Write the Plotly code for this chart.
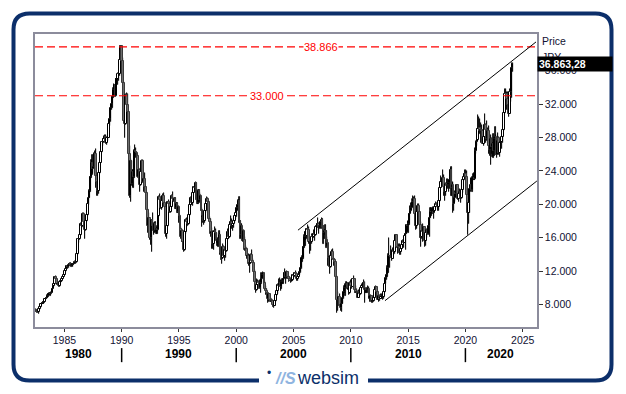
import plotly.graph_objects as go
import pandas as pd

# Monthly Nikkei 225 (Jul 1982 - Feb 2024)
close = [
    7250, 7150, 7050, 7400, 7650, 8016,
    8100, 8130, 8350, 8600, 8650, 8800, 9000, 9200, 9300, 9200, 9400, 9893,
    10200, 10400, 11300, 11000, 10400, 10500, 10200, 10700, 10800, 11100, 11300, 11542,
    11990, 12300, 12580, 12430, 12700, 12880, 12630, 12700, 12700, 12800, 12950, 13113,
    13030, 14000, 15860, 15830, 16300, 17650, 17370, 18820, 17850, 16910, 18000, 18701,
    20000, 20780, 21570, 23270, 24900, 24180, 24490, 26030, 26010, 23330, 22690, 21564,
    23720, 25000, 26260, 27430, 27420, 27770, 28060, 27370, 27920, 27970, 29580, 30159,
    31580, 31990, 32840, 33710, 34270, 33000, 34950, 35000, 35640, 35550, 37270, 38916,
    37190, 34590, 29980, 29590, 33130, 31940, 31040, 25980, 20980, 25190, 22450, 23849,
    23290, 26410, 26290, 26110, 25790, 23290, 24120, 22340, 23920, 25220, 22690, 22984,
    22020, 21340, 19350, 17390, 18350, 15950, 15910, 18060, 17400, 16770, 17680, 16925,
    17020, 16950, 18590, 20920, 20550, 19590, 20380, 21030, 20110, 19700, 16410, 17417,
    20230, 19990, 19110, 19730, 20970, 20640, 20450, 20630, 19560, 19990, 19080, 19723,
    18650, 17050, 16140, 16810, 15440, 14520, 16680, 18120, 17910, 17650, 18740, 19868,
    20810, 20130, 21410, 22040, 21950, 22530, 20690, 20170, 21560, 20470, 21020, 19361,
    18330, 18560, 18000, 19150, 20070, 20600, 20330, 18230, 17890, 16460, 16630, 15259,
    16630, 16830, 16530, 15640, 15670, 15830, 16380, 14110, 13410, 13560, 14880, 13842,
    14500, 14370, 15840, 16700, 16110, 17530, 17860, 17440, 17610, 17940, 18560, 18934,
    19540, 19960, 20340, 17970, 16330, 17410, 15730, 16860, 15750, 14540, 14650, 13786,
    13840, 12880, 13000, 13930, 13260, 12970, 11860, 10710, 9770, 10370, 10700, 10543,
    9990, 10590, 11020, 11490, 11760, 10620, 9880, 9620, 9380, 8640, 9220, 8579,
    8340, 8360, 7970, 7830, 8420, 9080, 9560, 10340, 10220, 10560, 10100, 10677,
    10780, 11040, 11720, 11760, 11240, 11860, 11330, 11080, 10820, 10770, 10900, 11489,
    11390, 11740, 11670, 11010, 11280, 11580, 11900, 12410, 13570, 13610, 14870, 16111,
    16650, 16210, 17060, 16910, 15470, 15510, 15460, 16140, 16130, 16400, 16270, 17226,
    17380, 17600, 17290, 17400, 17880, 18140, 17250, 16570, 16790, 16740, 15680, 15308,
    13590, 13600, 12530, 13850, 14340, 13480, 13380, 13070, 11260, 8580, 8510, 8860,
    7990, 7570, 8110, 8830, 9520, 9960, 10360, 10490, 10130, 10030, 9350, 10546,
    10200, 10130, 11090, 11060, 9770, 9380, 9540, 8820, 9370, 9200, 9940, 10229,
    10240, 10620, 9760, 9850, 9690, 9820, 9830, 8960, 8700, 8990, 8430, 8455,
    8800, 9720, 10080, 9520, 8540, 9010, 8700, 8840, 8870, 8930, 9450, 10395,
    11140, 11560, 12400, 13860, 13770, 13680, 13670, 13390, 14460, 14330, 15660, 16291,
    14910, 14840, 14830, 14300, 14630, 15160, 15620, 15420, 16170, 16410, 17460, 17451,
    17670, 18800, 19210, 19520, 20560, 20240, 20590, 18890, 17390, 19080, 19750, 19034,
    17520, 16030, 16760, 16670, 17230, 15580, 16570, 16890, 16450, 17430, 18310, 19114,
    19040, 19120, 18910, 19200, 19650, 20030, 19930, 19650, 20360, 22010, 22720, 22765,
    23100, 22070, 21450, 22470, 22200, 22300, 22550, 22870, 24120, 21920, 22350, 20015,
    20770, 21390, 21210, 22260, 20600, 21280, 21520, 20700, 21760, 22930, 23290, 23657,
    23210, 21140, 18920, 20190, 21880, 22290, 21710, 23140, 23190, 22980, 26430, 27444,
    27660, 28970, 29180, 28810, 28860, 28790, 27280, 28090, 29450, 28890, 27820, 28792,
    27000, 26530, 27820, 26850, 27280, 26390, 27800, 28090, 25940, 27590, 27970, 26095,
    27330, 27450, 28040, 28860, 30890, 33190, 33170, 32620, 31860, 30860, 33490, 33464,
    36287, 36863.28,
]
high = [
    7400, 7300, 7200, 7450, 7750, 8050,
    8200, 8250, 8400, 8650, 8750, 8900, 9100, 9250, 9400, 9400, 9450, 9900,
    10300, 10500, 11300, 11400, 11100, 10700, 10600, 10750, 10900, 11150, 11400, 11600,
    12050, 12350, 12600, 12650, 12750, 12900, 12950, 12800, 12800, 12900, 13000, 13150,
    13200, 14050, 15900, 16000, 16500, 17700, 17850, 18900, 18900, 17900, 18100, 18800,
    20100, 20900, 21700, 23300, 25250, 25900, 24800, 26100, 26400, 26650, 23700, 22900,
    23800, 25100, 26300, 27500, 27800, 28200, 28300, 28300, 28000, 28200, 29650, 30200,
    31600, 32500, 32900, 33900, 34400, 34300, 35000, 35300, 35700, 35800, 37300, 38957,
    38950, 37500, 34600, 30600, 33200, 33300, 33200, 31100, 27000, 25400, 25200, 24100,
    24100, 26500, 27146, 26700, 26300, 25900, 24300, 24200, 24000, 25300, 25300, 23000,
    23800, 22100, 21500, 19400, 18900, 18400, 16200, 18100, 18900, 17600, 17800, 17900,
    17200, 17400, 18700, 21000, 21200, 20600, 20500, 21200, 21300, 20300, 19800, 17600,
    20300, 20500, 20100, 20000, 21100, 21500, 20700, 20800, 20700, 20100, 20100, 19800,
    19800, 18700, 17300, 17000, 16900, 15600, 16800, 18200, 18400, 18200, 18800, 19900,
    20900, 21000, 21500, 22100, 22400, 22666, 22600, 21200, 21700, 21700, 21300, 21100,
    19500, 18900, 18800, 19300, 20300, 20900, 20700, 20400, 18500, 18200, 17200, 16800,
    16700, 17300, 17100, 16600, 15900, 16000, 16800, 16400, 14400, 14100, 15200, 15000,
    14600, 14700, 16000, 17000, 16900, 17700, 18600, 18200, 17900, 18000, 18700, 19000,
    19600, 20000, 20500, 20833, 18000, 17600, 17500, 16900, 16900, 16100, 15000, 14800,
    14100, 14000, 13300, 14100, 14500, 13500, 13000, 12100, 10900, 11000, 10900, 10800,
    10900, 10700, 11800, 11600, 11900, 11800, 10800, 10200, 9800, 9400, 9300, 9250,
    8800, 8700, 8500, 8100, 8500, 9200, 10000, 10400, 11000, 11200, 10900, 10800,
    11000, 11100, 11800, 12200, 11800, 12000, 11900, 11400, 11300, 11200, 11200, 11500,
    11550, 11800, 11950, 11700, 11350, 11650, 11950, 12500, 13600, 13800, 14900, 16300,
    16700, 16700, 17100, 17560, 17300, 15700, 15600, 16400, 16500, 16900, 16500, 17300,
    17600, 18300, 17700, 17800, 17900, 18300, 18262, 17400, 16900, 17500, 16800, 16100,
    15200, 14100, 13700, 13900, 14500, 14600, 13600, 13500, 13100, 11400, 9500, 8900,
    9300, 8100, 8600, 9000, 9600, 10170, 10400, 10700, 10600, 10400, 10100, 10640,
    10980, 10400, 11100, 11400, 11000, 10250, 9800, 9600, 9700, 9600, 10100, 10400,
    10600, 10900, 10700, 9900, 10000, 9900, 10200, 10050, 9100, 9150, 9000, 8700,
    8900, 9800, 10250, 10100, 9600, 9100, 9150, 9200, 9300, 9000, 9500, 10450,
    11200, 11600, 12650, 14000, 15942, 13800, 14950, 14500, 14800, 14800, 15700, 16320,
    16200, 15000, 15300, 15200, 14700, 15400, 15700, 15600, 16400, 16500, 17500, 18030,
    17900, 18800, 19800, 20100, 20600, 20950, 20850, 20950, 18900, 19150, 20000, 20000,
    18950, 17900, 17300, 17600, 17300, 17000, 16900, 17000, 17100, 17500, 18400, 19600,
    19600, 19450, 19700, 19300, 19900, 20300, 20200, 20100, 20500, 22100, 23400, 23000,
    24130, 23500, 22500, 22500, 23050, 23000, 22950, 23000, 24300, 24450, 22600, 22700,
    20900, 21560, 21860, 22300, 22300, 21300, 21800, 21600, 22100, 23000, 23600, 24100,
    24100, 24000, 21400, 20400, 22000, 23180, 23000, 23300, 23600, 23700, 26800, 27600,
    28980, 30714, 30500, 30200, 29700, 29500, 28900, 28200, 30795, 29600, 29960, 29100,
    29400, 27800, 28300, 27900, 27400, 28400, 28000, 29220, 28300, 27600, 28500, 28100,
    27500, 27700, 28600, 28900, 31350, 33770, 33800, 33500, 33400, 32500, 33800, 33850,
    36985, 36900,
]
low = [
    7150, 7000, 6950, 6850, 7350, 7600,
    7950, 8000, 8050, 8300, 8500, 8600, 8750, 8950, 9100, 9050, 9100, 9350,
    9800, 10100, 10350, 10900, 10300, 10300, 10050, 10100, 10600, 10700, 11000, 11250,
    11500, 11900, 12250, 12300, 12400, 12650, 12550, 12500, 12550, 12450, 12700, 12900,
    12850, 12950, 13950, 15400, 15700, 16250, 17200, 17300, 17700, 15800, 16800, 17900,
    18600, 19900, 20700, 21500, 23200, 23800, 23500, 24400, 25300, 21900, 21000, 21040,
    21200, 23600, 24900, 26200, 27000, 27300, 27600, 27200, 27100, 27600, 27900, 29400,
    29900, 31300, 31500, 32700, 33600, 32800, 32800, 34500, 34300, 34800, 35400, 37200,
    36800, 33300, 29800, 28000, 29500, 31500, 30700, 25100, 20800, 20221, 22200, 22100,
    22000, 23200, 25800, 25600, 25400, 23100, 22800, 21500, 22200, 23800, 22600, 21500,
    21700, 20600, 19200, 16600, 17000, 15700, 15100, 14309, 17200, 16300, 16600, 16700,
    16500, 16400, 16800, 18500, 20300, 19400, 19300, 20300, 19800, 19500, 16100, 15900,
    17300, 19000, 19000, 19000, 19700, 20500, 20300, 20300, 19400, 19400, 18900, 18900,
    17700, 16800, 15800, 15500, 15300, 14300, 14400, 16500, 17300, 17400, 17500, 18600,
    19700, 19900, 19800, 21300, 21500, 21600, 20500, 20000, 20000, 20400, 20100, 19200,
    17300, 17800, 17500, 17700, 19000, 19900, 19800, 18100, 17100, 16100, 14700, 14700,
    14500, 16100, 16000, 15400, 15000, 14900, 15800, 13900, 13300, 12880, 13500, 13700,
    13200, 13600, 14300, 15700, 15900, 16000, 17400, 17100, 16800, 17200, 17800, 18200,
    18500, 19200, 19300, 17700, 15900, 16000, 15600, 15500, 15600, 14400, 14200, 13400,
    13000, 12600, 11800, 12900, 13100, 12700, 11600, 10600, 9400, 9600, 10100, 9900,
    9900, 9400, 10500, 10900, 11300, 10400, 9800, 9100, 9000, 8200, 8300, 8500,
    8300, 8200, 7700, 7607, 7800, 8300, 9000, 9300, 10100, 10200, 9600, 9900,
    10500, 10400, 10900, 11700, 10500, 11100, 11000, 10700, 10800, 10600, 10700, 10800,
    11200, 11350, 11550, 10770, 10830, 11180, 11500, 11800, 12300, 13100, 13500, 14800,
    15000, 15700, 15900, 16800, 15300, 14050, 14400, 15300, 15600, 16000, 15600, 16200,
    16800, 17200, 16500, 17000, 17100, 17800, 17100, 15200, 15800, 16300, 14800, 15000,
    12600, 12900, 11700, 12400, 13600, 13400, 12600, 12600, 11100, 6990, 7160, 7800,
    7800, 7200, 7054, 8000, 8600, 9400, 9050, 10200, 9900, 9700, 9080, 9300,
    10200, 9870, 10100, 10900, 9430, 9350, 9100, 8800, 8800, 9000, 9100, 9900,
    10100, 10200, 8227, 9400, 9400, 9350, 9800, 8600, 8350, 8350, 8130, 8200,
    8350, 8800, 9700, 9400, 8500, 8240, 8400, 8600, 8700, 8500, 8620, 9400,
    10400, 10900, 11300, 11800, 13500, 12400, 13600, 13200, 13400, 13900, 14000, 15200,
    14800, 13995, 14200, 13900, 13960, 14600, 15000, 14750, 15400, 14530, 16400, 16670,
    16600, 17500, 18800, 19000, 19300, 20000, 19100, 17700, 16900, 17100, 19000, 18500,
    16000, 14860, 15800, 15500, 16100, 14860, 15000, 16000, 16300, 16300, 16100, 18300,
    18650, 18800, 18900, 18200, 19200, 19600, 19800, 19200, 19200, 20300, 21900, 22100,
    22800, 20950, 20350, 21000, 21950, 21850, 21500, 21850, 22300, 20970, 21000, 18950,
    19240, 20300, 20900, 21000, 20550, 20300, 21100, 20100, 20600, 21300, 22800, 23100,
    22900, 20900, 16358, 17600, 19000, 21500, 21700, 21500, 22900, 22900, 22900, 26000,
    27000, 27600, 28300, 28400, 27400, 27800, 27200, 26950, 28000, 27300, 27600, 27600,
    26000, 25800, 24700, 26000, 25700, 25500, 25800, 27500, 25900, 25600, 27400, 25900,
    25700, 27000, 26600, 27400, 28800, 30800, 31800, 31300, 31600, 30500, 31200, 32200,
    32700, 35800,
]
open_ = [7300] + close[:-1]

xtick_years = [1985, 1990, 1995, 2000, 2005, 2010, 2015, 2020, 2025]
decade_labels = ["1980", "1990", "2000", "2010", "2020"]
decade_centers = ["1986-03-20", "1995-01-01", "2005-01-01", "2015-01-01", "2023-02-01"]
separators = ["1990-01-01", "2000-01-01", "2010-01-01", "2020-01-01"]
ytick_vals = [8000, 12000, 16000, 20000, 24000, 28000, 32000, 36000]
ytick_text = ["8.000", "12.000", "16.000", "20.000", "24.000", "28.000", "32.000", "36.000"]
ath_level = 38866
level_33 = 33000
last_price = 36863.28
channel_upper = (["2005-05-22", "2026-03-01"], [16900, 39450])
channel_lower = (["2012-12-24", "2026-03-28"], [8450, 22790])

assert len(close) == len(high) == len(low)
dates = pd.date_range("1982-07-01", periods=len(close), freq="MS") + pd.Timedelta(days=14)

FONT = "Liberation Sans, Arial, sans-serif"
NAVY = "#0c2f6a"
MONTH_MS = 30.44 * 86400000

up = [c >= o for o, c in zip(open_, close)]
body_base = [min(o, c) for o, c in zip(open_, close)]
body_h = [max(abs(c - o), 40) for o, c in zip(open_, close)]
body_fill = ["white" if u else "#6e6e6e" for u in up]
body_line = ["black" if u else "#3a3a3a" for u in up]
wick_h = [h - l for h, l in zip(high, low)]

fig = go.Figure()
# wicks (thin bars, drawn first so bodies sit on top)
fig.add_trace(go.Bar(x=dates, y=wick_h, base=low, width=0.15 * MONTH_MS,
                     marker=dict(color="black", line=dict(color="black", width=0.8)),
                     hoverinfo="skip", showlegend=False))
# bodies
fig.add_trace(go.Bar(x=dates, y=body_h, base=body_base, width=1.7 * MONTH_MS,
                     marker=dict(color=body_fill, line=dict(color=body_line, width=1)),
                     hoverinfo="skip", showlegend=False))

shapes = []
for lvl in (ath_level, level_33):
    shapes.append(dict(type="line", xref="paper", x0=0, x1=1, yref="y", y0=lvl, y1=lvl,
                       line=dict(color="#ff0000", width=1.2, dash="8px,4px")))
for (xs, ys) in (channel_upper, channel_lower):
    shapes.append(dict(type="line", xref="x", yref="y", x0=xs[0], x1=xs[1], y0=ys[0], y1=ys[1],
                       line=dict(color="black", width=1)))
for s in separators:
    shapes.append(dict(type="line", xref="x", yref="paper", x0=s, x1=s, y0=-0.072, y1=-0.12,
                       line=dict(color="black", width=1.5)))

# screen layout (page body has an 8px margin): plot area x 35..537, y 34..327 px on screen
def px(x):
    return (x - 35) / 502.0
def py(y):
    return (327 - y) / 293.0
L, R, T, B, r = 13.5, 611.5, 13.5, 380.5, 16
gapL, gapR = 259, 368
pts = (f"M {px(gapR)},{py(B)} L {px(R - r)},{py(B)} Q {px(R)},{py(B)} {px(R)},{py(B - r)} "
       f"L {px(R)},{py(T + r)} Q {px(R)},{py(T)} {px(R - r)},{py(T)} "
       f"L {px(L + r)},{py(T)} Q {px(L)},{py(T)} {px(L)},{py(T + r)} "
       f"L {px(L)},{py(B - r)} Q {px(L)},{py(B)} {px(L + r)},{py(B)} L {px(gapL)},{py(B)}")
shapes.append(dict(type="path", xref="paper", yref="paper", path=pts,
                   line=dict(color=NAVY, width=4)))

def ann(text, x, y, color, size, xref="paper", yref="paper", xanchor="center", **kw):
    return dict(text=text, xref=xref, x=x, yref=yref, y=y, showarrow=False,
                xanchor=xanchor, yanchor="middle",
                font=dict(color=color, size=size, family=FONT), **kw)

annotations = [
    ann("38.866", px(321), ath_level, "#ff0000", 11, yref="y", bgcolor="white", borderpad=0),
    ann("33.000", px(267), level_33, "#ff0000", 11, yref="y", bgcolor="white", borderpad=0),
    ann("Price", px(540), py(41), "#111133", 10.5, xanchor="left"),
    ann("JPY", px(540), py(57), "#111133", 10.5, xanchor="left"),
    ann("<b>36.863,28</b>", 1.0, last_price, "white", 10.5, yref="y", xanchor="left",
        bgcolor="black", borderpad=1, width=72, align="left"),
]
for lab, c in zip(decade_labels, decade_centers):
    annotations.append(ann(f"<b>{lab}</b>", c, py(354), "black", 12, xref="x"))
annotations.append(ann("•", px(269), py(373), NAVY, 12))
annotations.append(ann("<i><b>//S</b></i>", px(285), py(378), "#8fb4e0", 16))
annotations.append(ann("websim", px(328), py(378), NAVY, 18))

fig.update_layout(
    width=610, height=378,
    margin=dict(l=27, r=81, t=26, b=59),
    paper_bgcolor="white", plot_bgcolor="white",
    shapes=shapes, annotations=annotations,
    bargap=0, barmode="overlay",
    xaxis=dict(type="date", range=["1982-06-10", "2026-04-01"],
               tickvals=[f"{y}-01-01" for y in xtick_years], ticktext=[str(y) for y in xtick_years],
               ticks="outside", ticklen=3, tickcolor="#333", showgrid=False,
               showline=True, linecolor="#8c8c9c", linewidth=1.5, mirror=True,
               tickfont=dict(size=10.5, family=FONT, color="#111133")),
    yaxis=dict(side="right", range=[5300, 40400], tickvals=ytick_vals, ticktext=ytick_text,
               ticks="outside", ticklen=4, tickcolor="#333", showgrid=False, zeroline=False,
               showline=True, linecolor="#8c8c9c", linewidth=1.5, mirror=True,
               tickfont=dict(size=10.5, family=FONT, color="#111133")),
)
fig.write_html("out.html")
